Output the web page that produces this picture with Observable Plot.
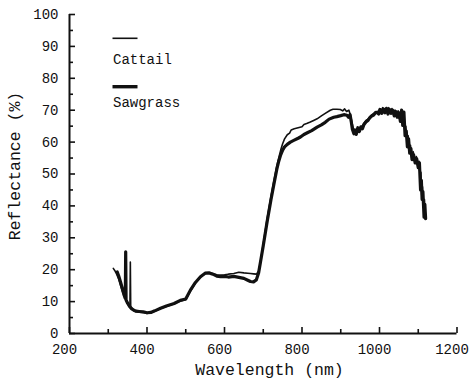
<!DOCTYPE html>
<html>
<head>
<meta charset="utf-8">
<script src="https://cdn.jsdelivr.net/npm/d3@7"></script>
<script src="https://cdn.jsdelivr.net/npm/@observablehq/plot@0.6"></script>
<style>
  html, body { margin: 0; padding: 0; background: #fff; }
  #chart { width: 470px; height: 380px; }
</style>
</head>
<body>
<div id="chart"></div>
<script>
// ---- data ----
const seriesNames = ["Cattail", "Sawgrass"];

const cattailWl = [313, 318, 322, 327, 332, 337, 342, 348, 352, 356, 357, 358, 362, 366, 372, 380, 390, 400, 410, 420, 435, 450, 470, 486, 500, 512, 525, 538, 550, 560, 570, 580, 590, 600, 610, 624, 637, 650, 660, 667, 675, 682, 688, 693, 700, 710, 720, 727, 735, 740, 745, 750, 755, 762, 768, 772, 780, 790, 800, 805, 812, 820, 830, 839, 850, 860, 873, 880, 890, 899, 905, 910, 915, 921, 925, 930, 934, 938, 942, 946, 950, 955, 960, 965, 970, 975, 980, 985, 990, 995, 1000, 1004, 1008, 1012, 1016, 1020, 1024, 1028, 1032, 1036, 1040, 1044, 1048, 1052, 1056, 1059, 1062, 1065, 1068, 1071, 1074, 1077, 1080, 1083, 1087, 1091, 1095, 1099, 1102, 1105, 1107, 1109, 1111, 1113, 1116, 1118];
const cattailR = [20.4, 19.5, 18.5, 17, 15, 13, 11.5, 10, 9, 8.5, 22.4, 8.3, 7.8, 7.2, 6.8, 6.7, 6.6, 6.3, 6.5, 7.0, 7.8, 8.5, 9.3, 10.2, 10.6, 13.2, 15.8, 17.7, 18.8, 19.0, 18.8, 18.4, 18.3, 18.4, 18.6, 18.8, 19.2, 19.0, 18.9, 18.8, 18.7, 18.6, 19.5, 22.5, 28, 36, 43, 47.5, 52.5, 55, 57.5, 59.5, 61, 62.3, 62.8, 63.8, 64.2, 64.5, 64.8, 65.5, 65.8, 66.2, 66.8, 67.3, 68.2, 69.0, 70.0, 70.3, 70.3, 70.2, 69.8, 70.4, 69.6, 70.0, 68.5, 65.5, 63.5, 62.8, 64.0, 63.8, 64.5, 65.0, 66.0, 66.8, 67.2, 68.0, 68.5, 69.0, 69.6, 68.9, 70.5, 69.4, 70.8, 69.5, 70.3, 69.8, 70.8, 69.3, 70.5, 69.0, 70.0, 68.5, 69.8, 67.5, 68.8, 66.0, 67.0, 64.0, 65.0, 60.5, 62.0, 57.5, 59.0, 55.0, 57.0, 54.0, 55.5, 52.5, 54.0, 49.0, 50.5, 43.5, 46.0, 40.0, 42.0, 37.0];

const sawgrassWl = [323, 327, 332, 337, 341, 344, 345, 346, 350, 355, 360, 366, 372, 380, 390, 400, 410, 420, 435, 450, 470, 486, 500, 512, 525, 538, 550, 560, 570, 580, 590, 600, 610, 624, 637, 650, 660, 667, 675, 682, 688, 693, 700, 710, 720, 727, 735, 740, 745, 750, 755, 762, 770, 780, 790, 796, 805, 815, 825, 839, 850, 860, 870, 882, 890, 900, 908, 916, 920, 924, 927, 930, 934, 937, 940, 944, 948, 952, 956, 960, 965, 970, 975, 980, 985, 990, 994, 998, 1002, 1006, 1010, 1014, 1018, 1022, 1026, 1030, 1034, 1038, 1042, 1046, 1050, 1054, 1057, 1060, 1063, 1066, 1069, 1072, 1075, 1078, 1081, 1084, 1088, 1092, 1096, 1100, 1103, 1106, 1108, 1110, 1112, 1115, 1117, 1119];
const sawgrassR = [19.3, 18, 16, 13.8, 12, 11, 25.6, 10.5, 9.5, 8.5, 7.8, 7.3, 7.0, 6.9, 6.8, 6.5, 6.6, 7.1, 7.9, 8.6, 9.4, 10.4, 10.8, 13.6, 16.0, 17.8, 18.9, 19.0, 18.6, 18.0, 17.8, 17.9, 17.7, 17.9, 17.6, 17.3, 16.7, 16.3, 16.2, 16.8, 19.0, 22.5, 27.5, 35, 42, 46.5, 51.5, 54, 56, 57.5, 58.5, 59.3, 60, 60.6, 61.2, 61.6, 62.4, 63.0, 63.6, 64.7, 65.4, 66.2, 67.2, 67.8, 68.0, 68.3, 68.6, 68.4, 67.8, 68.6, 66.5, 64.0, 62.6, 63.8, 62.4, 64.5, 63.3, 64.8, 64.2, 65.5, 66.3, 66.8, 67.6, 68.2, 68.5, 69.2, 69.4, 68.8, 70.2, 69.0, 70.4, 69.2, 70.6, 68.8, 70.2, 69.0, 70.0, 68.2, 69.6, 67.8, 69.2, 66.5, 70.0, 65.2, 69.4, 62.0, 63.5, 58.5, 61.0, 56.5, 58.0, 54.5, 56.0, 53.5, 54.8, 52.0, 53.5, 45.0, 48.0, 42.0, 44.5, 36.5, 40.5, 36.0];

const xTickLabels = [200, 400, 600, 800, 1000, 1200];
const xMinorTicks = [300, 500, 700, 900, 1100];
const yTickLabels = [0, 10, 20, 30, 40, 50, 60, 70, 80, 90, 100];
const yMinorTicks = [5, 15, 25, 35, 45, 55, 65, 75, 85, 95];
const xTitle = "Wavelength (nm)";
const yTitle = "Reflectance (%)";

// ---- build tables ----
const cattail = cattailWl.map((w, i) => ({wl: w, r: cattailR[i]}));
const sawgrass = sawgrassWl.map((w, i) => ({wl: w, r: sawgrassR[i]}));

const W = 470, H = 380;
const mL = 69, mR = 13.5, mT = 14, mB = 47;
const innerW = W - mL - mR, innerH = H - mT - mB;
const ink = "#111";
const font = "'Liberation Mono', 'Courier New', monospace";

const svg = Plot.plot({
  width: W, height: H,
  marginLeft: mL, marginRight: mR, marginTop: mT, marginBottom: mB,
  x: {domain: [200, 1200]},
  y: {domain: [0, 100]},
  style: {fontFamily: font, background: "#fff", color: ink, overflow: "visible"},
  marks: [
    Plot.axisX(xTickLabels, {tickSize: 0, tickPadding: 11, fontSize: 14, dx: -5, label: null, fill: ink, tickFormat: d => String(d)}),
    Plot.axisY(yTickLabels, {tickSize: 0, tickPadding: 11, fontSize: 14, label: null, fill: ink, tickFormat: d => String(d)}),
    Plot.tickX(xTickLabels, {x: d => d, insetTop: innerH - 6, stroke: ink, strokeWidth: 1.6}),
    Plot.tickX(xMinorTicks, {x: d => d, insetTop: innerH - 4, stroke: ink, strokeWidth: 1.6}),
    Plot.tickY(yTickLabels, {y: d => d, insetRight: innerW - 6, stroke: ink, strokeWidth: 1.6}),
    Plot.tickY(yMinorTicks, {y: d => d, insetRight: innerW - 4, stroke: ink, strokeWidth: 1.6}),
    Plot.ruleY([0], {stroke: ink, strokeWidth: 2}),
    Plot.ruleX([200], {stroke: ink, strokeWidth: 2}),
    Plot.line(sawgrass, {x: "wl", y: "r", stroke: ink, strokeWidth: 3.2, strokeLinejoin: "round", strokeLinecap: "round"}),
    Plot.line(cattail, {x: "wl", y: "r", stroke: ink, strokeWidth: 1.6, strokeLinejoin: "round", strokeLinecap: "round"})
  ]
});

const s = d3.select(svg);
// axis titles
s.append("text")
  .attr("x", 269.5).attr("y", 375)
  .attr("text-anchor", "middle")
  .attr("font-family", font).attr("font-size", 16.5).attr("fill", ink)
  .text(xTitle);
s.append("text")
  .attr("transform", "translate(20,166) rotate(-90)")
  .attr("text-anchor", "middle")
  .attr("font-family", font).attr("font-size", 16.5).attr("fill", ink)
  .text(yTitle);

// legend
const legend = [
  {name: seriesNames[0], lineY: 38.3, textY: 63.5, sw: 1.6},
  {name: seriesNames[1], lineY: 86.7, textY: 107, sw: 3.4}
];
legend.forEach(d => {
  s.append("line")
    .attr("x1", 112.5).attr("x2", 137.5)
    .attr("y1", d.lineY).attr("y2", d.lineY)
    .attr("stroke", ink).attr("stroke-width", d.sw);
  s.append("text")
    .attr("x", 113).attr("y", d.textY)
    .attr("text-anchor", "start")
    .attr("font-family", font).attr("font-size", 14).attr("fill", ink)
    .text(d.name);
});

document.getElementById("chart").appendChild(svg);
</script>
</body>
</html>
